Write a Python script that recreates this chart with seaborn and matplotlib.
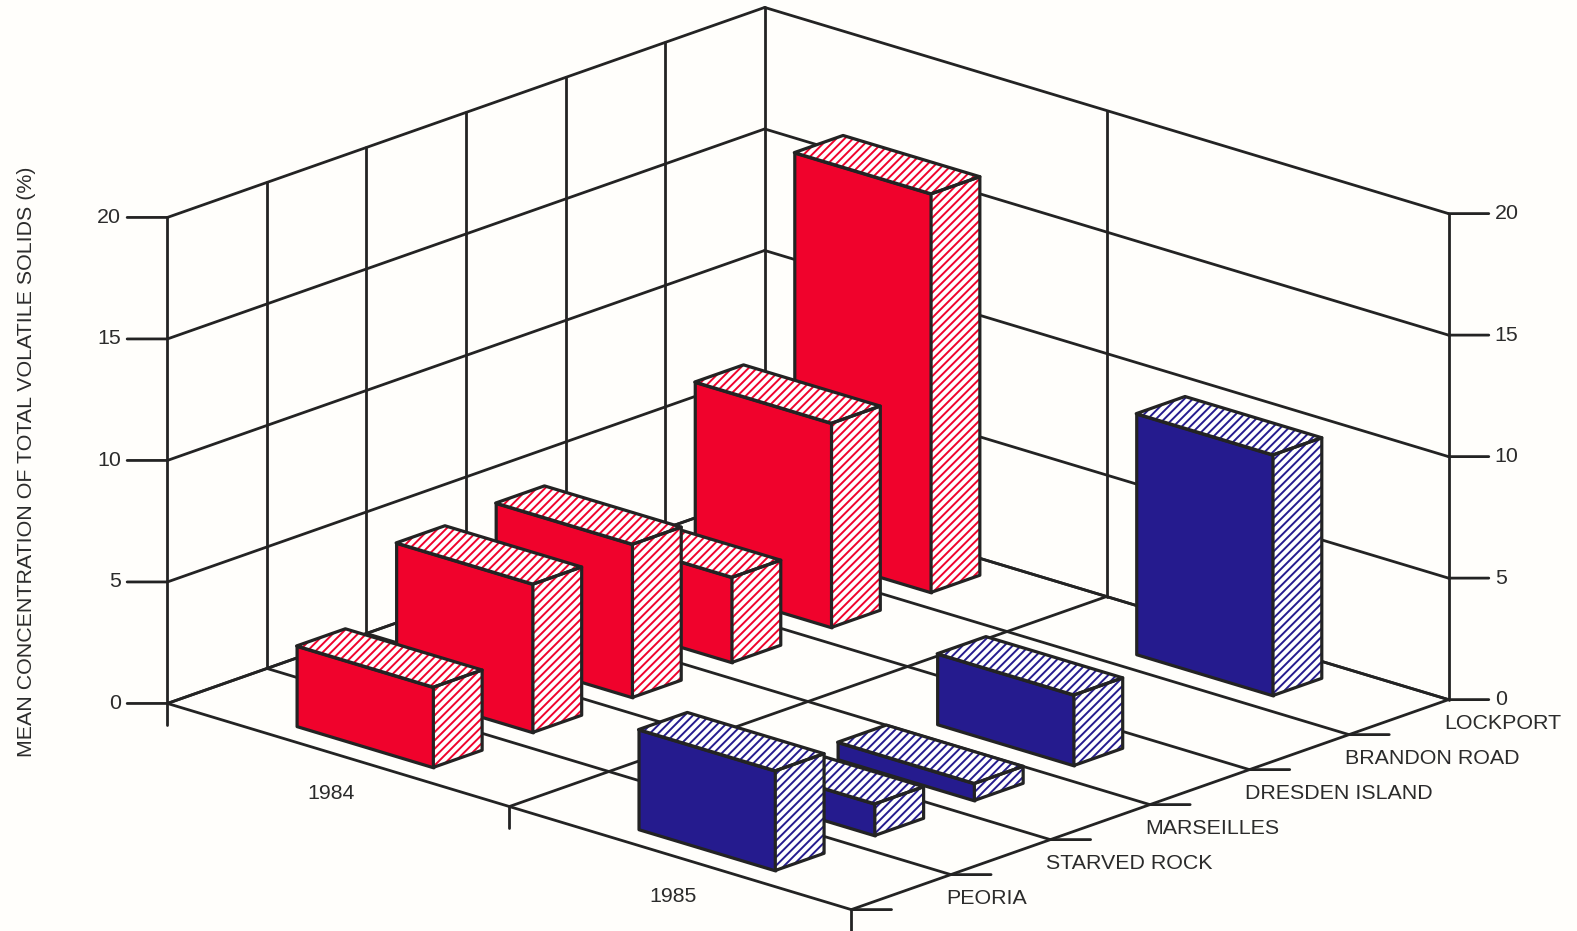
import matplotlib
matplotlib.use("Agg")
import matplotlib.pyplot as plt
import seaborn as sns
import pandas as pd
from mpl_toolkits.mplot3d import proj3d
from mpl_toolkits.mplot3d.art3d import Poly3DCollection

# Mean concentration of total volatile solids (%) by site and year
sites = ["PEORIA", "STARVED ROCK", "MARSEILLES", "DRESDEN ISLAND", "BRANDON ROAD", "LOCKPORT"]
years = ["1984", "1985"]
values_1984 = [3.3, 6.1, 6.3, 3.5, 8.4, 16.4]
values_1985 = [4.1, 1.3, 0.7, 2.9, 0.0, 9.9]
value_ticks = [0, 5, 10, 15, 20]

sns.set_theme(style="white")
plt.rcParams["font.family"] = ["Liberation Sans", "DejaVu Sans"]
plt.rcParams["hatch.linewidth"] = 1.4

table = pd.DataFrame({"site": sites, "1984": values_1984, "1985": values_1985}).melt(
    id_vars="site", var_name="year", value_name="value")
table["u"] = table["year"].map({y: i for i, y in enumerate(years)})
table["v"] = table["site"].map({s: i for i, s in enumerate(sites)})

PAPER = "#fffefb"
INK = "#232323"
TEXT = "#2b2b2b"
palette = {"1984": "#f0022c", "1985": "#251b8e"}
CLEAR = (0, 0, 0, 0)
FONT = 15.4

fig = plt.figure(figsize=(15.77, 9.31), dpi=100, facecolor=PAPER)
side_px = 1700
ax = fig.add_axes([-65 / 1577, -400.5 / 931, side_px / 1577, side_px / 931], projection="3d",
                  proj_type="ortho", computed_zorder=False)
ax.set_facecolor("none")
ax.view_init(elev=19.0, azim=-47.2)
ax.set_box_aspect((932, 879, 514), zoom=0.7883)
ax.set_xlim(0, len(years), view_margin=0)
ax.set_ylim(0, len(sites), view_margin=0)
ax.set_zlim(0, 20, view_margin=0)
ax.set_axis_off()
view = ax.get_proj()


def flat_offset(px):
    """Year/site step that moves a point about px pixels sideways on screen."""
    du = px / 632.0
    return du, 2.954 * du


def seg(p, q, z=2, lw=2.0):
    ax.plot([p[0], q[0]], [p[1], q[1]], [p[2], q[2]], color=INK, lw=lw, zorder=z,
            solid_capstyle="round")


def label(p, text, **kw):
    """Flat text anchored at the on-screen position of a chart point."""
    xs, ys, _ = proj3d.proj_transform(*p, view)
    ax.text2D(xs, ys, text, transform=ax.transData, va="center", fontsize=FONT, color=TEXT, **kw)


nu, nv = len(years), len(sites)

# floor grid
for u in range(nu + 1):
    seg((u, 0, 0), (u, nv, 0))
for v in range(nv + 1):
    seg((0, v, 0), (nu, v, 0))

# walls
for level in value_ticks:
    seg((0, 0, level), (0, nv, level))
    seg((0, nv, level), (nu, nv, level))
for v in range(nv + 1):
    seg((0, v, 0), (0, v, 20))
for u in range(1, nu + 1):
    seg((u, nv, 0), (u, nv, 20))

# tick marks and value labels on both sides
du, dv = flat_offset(40)
du2, dv2 = flat_offset(46)
for level in value_ticks:
    seg((0, 0, level), (-du, -dv, level))
    label((-du2, -dv2, level), str(level), ha="right")
    seg((nu, nv, level), (nu + du, nv + dv, level))
    label((nu + du2, nv + dv2, level), str(level), ha="left")

for u in range(nu + 1):
    seg((u, 0, 0), (u, 0, -0.9))
for v in range(nv):
    seg((nu, v, 0), (nu + du, v + dv, 0))

# year and site labels
lu, lv = flat_offset(-7)
for i, year in enumerate(years):
    label((i + 0.5 + lu, lv, -1.6), year, ha="center")
lu, lv = flat_offset(45)
for i, site in enumerate(sites):
    label((nu + lu, i + 0.5 + lv, -0.25), site, ha="left")

fig.text(27 / 1577, 1 - 462 / 931, "MEAN CONCENTRATION OF TOTAL VOLATILE SOLIDS (%)",
         rotation=90, ha="center", va="center", fontsize=FONT, color=TEXT)

# bars, painted from the back corner towards the viewer
order = table.assign(depth=table["u"] - table["v"]).sort_values("depth")
z = 10
for row in order.itertuples():
    if row.value <= 0:
        continue
    u0, u1 = row.u + 0.305, row.u + 0.705
    v0, v1 = row.v + 0.25, row.v + 0.74
    h = row.value
    colour = palette[row.year]
    front = [(u0, v0, 0), (u1, v0, 0), (u1, v0, h), (u0, v0, h)]
    right = [(u1, v0, 0), (u1, v1, 0), (u1, v1, h), (u1, v0, h)]
    top = [(u0, v0, h), (u1, v0, h), (u1, v1, h), (u0, v1, h)]
    face = Poly3DCollection([front], facecolors=colour, edgecolors=INK, linewidths=2.3, zorder=z)
    hatched = Poly3DCollection([right, top], facecolors="white", edgecolors=colour, linewidths=0,
                               hatch="////", zorder=z + 1)
    outline = Poly3DCollection([right, top], facecolors=CLEAR, edgecolors=INK, linewidths=2.3,
                               zorder=z + 2)
    for poly in (face, hatched, outline):
        ax.add_collection3d(poly, autolim=False)
    z += 3

fig.savefig("out.png", dpi=100, facecolor=PAPER)
